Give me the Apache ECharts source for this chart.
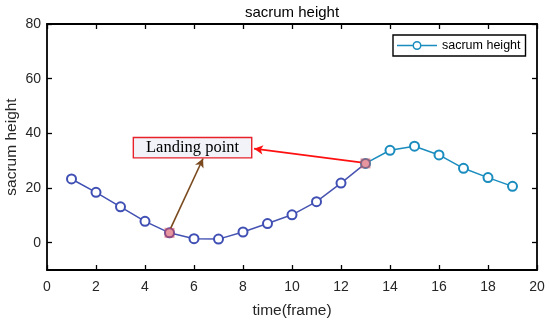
<!DOCTYPE html>
<html><head><meta charset="utf-8">
<script src="https://cdn.jsdelivr.net/npm/echarts@6/dist/echarts.min.js"></script>
<style>html,body{margin:0;padding:0;background:#fff}#c{width:550px;height:321px}</style>
</head><body><div id="c"></div><script>
const frames = [1,2,3,4,5,6,7,8,9,10,11,12,13,14,15,16,17,18,19];
const heights = [23.3,18.4,13.1,7.8,3.6,1.45,1.3,3.9,7.0,10.2,15.0,21.8,29.0,33.8,35.3,32.1,27.2,23.8,20.6];
const landingFrames = [5,13];
const xTicks = [0,2,4,6,8,10,12,14,16,18,20];
const yTicks = [0,20,40,60,80];
const seriesName = 'sacrum height';
const annotationText = 'Landing point';

const cA = '#3f4fb3', cB = '#1a8cbe';
const splitFrame = 13;
const fr = (splitFrame - frames[0]) / (frames[frames.length-1] - frames[0]);

const lineData = frames.map((f,i)=>({value:[f,heights[i]], itemStyle:{color: f < splitFrame ? cA : cB, borderColor: f < splitFrame ? cA : cB}}));
const landData = landingFrames.map(f=>[f, heights[frames.indexOf(f)]]);

// legend glyph: line with hollow circle (40 x 10)
const legendIcon = 'path://M0 4.25H15.6V5.75H0Z M24.4 4.25H40V5.75H24.4Z ' +
  'M24.5 5A4.5 4.5 0 1 0 15.5 5A4.5 4.5 0 1 0 24.5 5Z ' +
  'M23 5A3 3 0 1 1 17 5A3 3 0 1 1 23 5Z M0 0H0.01V0.01H0Z M39.99 9.99H40V10H39.99Z';

const fontSans = 'Liberation Sans, Arial, sans-serif';
const axisCommon = {
  axisLine:{onZero:false, lineStyle:{color:'#000', width:1.8}},
  axisTick:{inside:true, length:5, lineStyle:{color:'#000', width:1.3}},
  splitLine:{show:false}
};
const chart = echarts.init(document.getElementById('c'), null, {renderer:'canvas'});
chart.setOption({
  animation:false,
  backgroundColor:'#fff',
  title:{text:seriesName, left:292, textAlign:'center', top:5, padding:0, textStyle:{fontSize:15, fontWeight:'normal', color:'#000', fontFamily:fontSans}},
  legend:{
    data:[{name:seriesName, icon:legendIcon}],
    itemStyle:{color:cB, borderWidth:0},
    left:393, top:35, itemWidth:40, itemHeight:10, itemGap:4,
    padding:[4,5,4,4], borderColor:'#000', borderWidth:1.4, backgroundColor:'#fff',
    textStyle:{fontSize:12.5, color:'#000', fontFamily:fontSans}
  },
  grid:{left:47, right:13, top:24, bottom:51, containLabel:false, outerBoundsMode:'none'},
  xAxis:[
    Object.assign({}, axisCommon, {type:'value', min:0, max:20, interval:2, position:'bottom',
      axisLabel:{fontSize:14, color:'#262626', margin:10, fontFamily:fontSans, customValues:xTicks},
      axisTick:Object.assign({}, axisCommon.axisTick, {customValues:xTicks}),
      name:'time(frame)', nameLocation:'middle', nameGap:33, nameTextStyle:{fontSize:15.5, color:'#262626', fontFamily:fontSans}}),
    Object.assign({}, axisCommon, {type:'value', min:0, max:20, interval:2, position:'top', axisLabel:{show:false},
      axisTick:Object.assign({}, axisCommon.axisTick, {customValues:xTicks})})
  ],
  yAxis:[
    Object.assign({}, axisCommon, {type:'value', min:-10, max:80, position:'left',
      axisLabel:{fontSize:14, color:'#262626', margin:6, fontFamily:fontSans, customValues:yTicks},
      axisTick:Object.assign({}, axisCommon.axisTick, {customValues:yTicks}),
      name:seriesName, nameLocation:'middle', nameGap:27, nameMoveOverlap:false,
      nameTextStyle:{fontSize:15.5, color:'#262626', fontFamily:fontSans}}),
    Object.assign({}, axisCommon, {type:'value', min:-10, max:80, position:'right', axisLabel:{show:false},
      axisTick:Object.assign({}, axisCommon.axisTick, {customValues:yTicks})})
  ],
  series:[
    {
      name:seriesName, type:'line', xAxisIndex:0, yAxisIndex:0,
      data:lineData, symbol:'emptyCircle', symbolSize:9,
      itemStyle:{color:cB, borderWidth:1.6},
      lineStyle:{width:1.5, color:new echarts.graphic.LinearGradient(0,0,1,0,[
        {offset:0,color:cA},{offset:fr,color:'#4a55b0'},{offset:fr+0.001,color:cB},{offset:1,color:cB}])},
      z:3
    },
    {
      name:'landing', type:'scatter', xAxisIndex:0, yAxisIndex:0,
      data:landData, symbol:'rect', symbolSize:10,
      itemStyle:{color:'rgba(214,72,88,0.72)'}, z:4,
      markLine:{
        silent:true, symbol:['none','arrow'], symbolSize:[7,9], label:{show:false},
        data:[
          [{coord:[5.05,5.3], lineStyle:{color:'#7a4a1e', width:1.6, type:'solid'}},{coord:[6.37,30.8]}],
          [{coord:[12.8,29.4], lineStyle:{color:'#ff1010', width:1.8, type:'solid'}},{coord:[8.45,34.4]}]
        ]
      },
      markPoint:{
        silent:true,
        data:[{coord:[5.94,34.75], symbol:'rect', symbolSize:1,
          itemStyle:{color:'rgba(0,0,0,0)'},
          label:{show:true, position:'inside', formatter:annotationText,
            fontFamily:'Liberation Serif, Times New Roman, serif', fontSize:16.5, color:'#000',
            backgroundColor:'#f1f3f9', borderColor:'#e8202a', borderWidth:1.4,
            width:107, height:15, align:'center', verticalAlign:'middle', lineHeight:15, padding:[2,5,2,5]}}]
      }
    }
  ]
});
</script></body></html>
